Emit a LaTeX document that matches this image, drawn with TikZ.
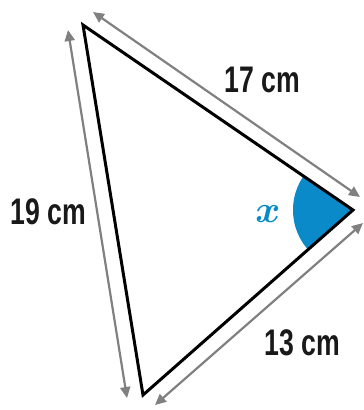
\documentclass[tikz,border=0pt]{standalone}
\usepackage{fontspec}
\setmainfont{Liberation Sans}[FakeStretch=0.72]
\usepackage{tikz}
\usepackage{xcolor}
\usetikzlibrary{arrows.meta}

\definecolor{angleblue}{RGB}{10,138,200}
\definecolor{dimgray}{RGB}{128,128,128}

\tikzset{
  side/.style={line width=3pt, color=black, line join=miter},
  dimline/.style={line width=2.2pt, color=dimgray,
    {Triangle[length=11pt,width=10pt]}-{Triangle[length=11pt,width=10pt]}},
  lengthlabel/.style={font=\fontsize{37}{40}\selectfont\bfseries, color=black!90, inner sep=0pt}
}

\begin{document}
\begin{tikzpicture}[x=1pt, y=-1pt]
  \useasboundingbox (0,0) rectangle (364,410);
  % vertices
  \coordinate (top) at (83,25);
  \coordinate (right) at (353,210);
  \coordinate (bottom) at (143,395);
  % ends of the dimension arrows
  \coordinate (leftA) at (68,30);
  \coordinate (leftB) at (127,398);
  \coordinate (upA) at (93,12);
  \coordinate (upB) at (360,197);
  \coordinate (lowA) at (363,223);
  \coordinate (lowB) at (155,405);
  % angle x
  \begin{scope}
    \clip (top) -- (right) -- (bottom) -- cycle;
    \fill[color=angleblue] (right) circle[radius=60];
  \end{scope}
  \draw[side] (top) -- (right) -- (bottom) -- cycle;
  \draw[dimline] (leftA) -- (leftB);
  \draw[dimline] (upA) -- (upB);
  \draw[dimline] (lowA) -- (lowB);
  \node[lengthlabel] (labelup) at (262,80) {17 cm};
  \node[lengthlabel] (labelleft) at (48,212) {19 cm};
  \node[lengthlabel] (labellow) at (302,343) {13 cm};
  \node[color=angleblue, inner sep=0pt] (anglex) at (268,214) {\scalebox{3.8}{\boldmath$x$}};
\end{tikzpicture}
\end{document}
